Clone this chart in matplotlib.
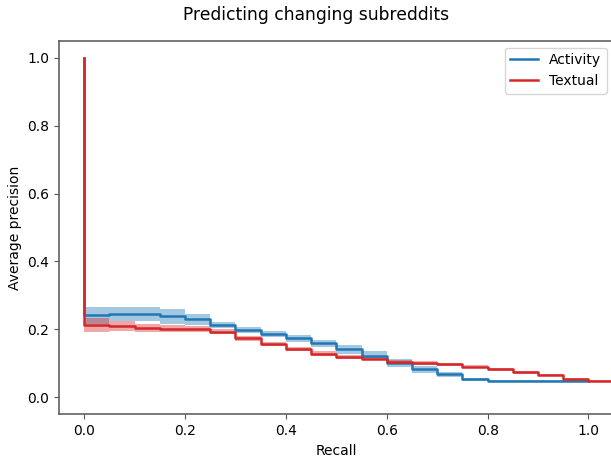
import matplotlib
matplotlib.use("Agg")
import matplotlib.pyplot as plt
import numpy as np

# Recall levels (segment start points)
recall_levels = [0.0, 0.05, 0.10, 0.15, 0.20, 0.25, 0.30, 0.35, 0.40, 0.45,
                 0.50, 0.55, 0.60, 0.65, 0.70, 0.75, 0.80, 0.85, 0.90, 0.95, 1.00]
start_precision = 1.0

activity_prec = [0.242, 0.246, 0.246, 0.238, 0.230, 0.213, 0.197, 0.187, 0.174, 0.159,
                 0.141, 0.122, 0.102, 0.082, 0.068, 0.053, 0.048, 0.048, 0.048, 0.048]
activity_err = [0.025, 0.021, 0.021, 0.021, 0.016, 0.010, 0.009, 0.009, 0.010, 0.010,
                0.012, 0.013, 0.012, 0.010, 0.008, 0.005, 0.003, 0.002, 0.002, 0.002]
activity_end = 1.0

textual_prec = [0.213, 0.210, 0.205, 0.202, 0.201, 0.193, 0.174, 0.156, 0.143, 0.129,
                0.119, 0.114, 0.104, 0.101, 0.097, 0.090, 0.082, 0.074, 0.066, 0.054, 0.048]
textual_err = [0.021, 0.015, 0.012, 0.010, 0.010, 0.008, 0.007, 0.006, 0.006, 0.006,
               0.005, 0.005, 0.005, 0.005, 0.004, 0.004, 0.004, 0.004, 0.004, 0.004, 0.004]
textual_end = 1.10

series = [
    ("Activity", activity_prec, activity_err, activity_end, "#1f77b4"),
    ("Textual", textual_prec, textual_err, textual_end, "#d62728"),
]

W, H = 611, 457
fig = plt.figure(figsize=(W / 100, H / 100), dpi=100)
left, right, top, bottom = 59.0, 613.7, 40.7, 414.3
ax = fig.add_axes([left / W, 1 - bottom / H, (right - left) / W, (bottom - top) / H])

for name, prec, err, end, color in series:
    n = len(prec)
    x = np.array([recall_levels[0]] + recall_levels[:n] + [end])
    y = np.array([start_precision] + list(prec) + [prec[-1]])
    e = np.array([0.0] + list(err) + [err[-1]])
    ax.fill_between(x[1:], (y - e)[1:], (y + e)[1:], step="post",
                    color=color, alpha=0.4, linewidth=0)
    ax.step(x, y, where="post", color=color, linewidth=1.8, label=name)

ax.set_xlim(-0.05, 1.05)
ax.set_ylim(-0.05, 1.05)
ax.set_xticks([0.0, 0.2, 0.4, 0.6, 0.8, 1.0])
ax.set_yticks([0.0, 0.2, 0.4, 0.6, 0.8, 1.0])
for s in ax.spines.values():
    s.set_color("#555555")
    s.set_linewidth(1.1)
ax.tick_params(color="#555555")
ax.set_xlabel("Recall")
ax.set_ylabel("Average precision")
ax.legend(loc="upper right")
fig.suptitle("Predicting changing subreddits", fontsize=12.3, x=316 / W, y=0.987)

fig.savefig("out.png", dpi=100)
